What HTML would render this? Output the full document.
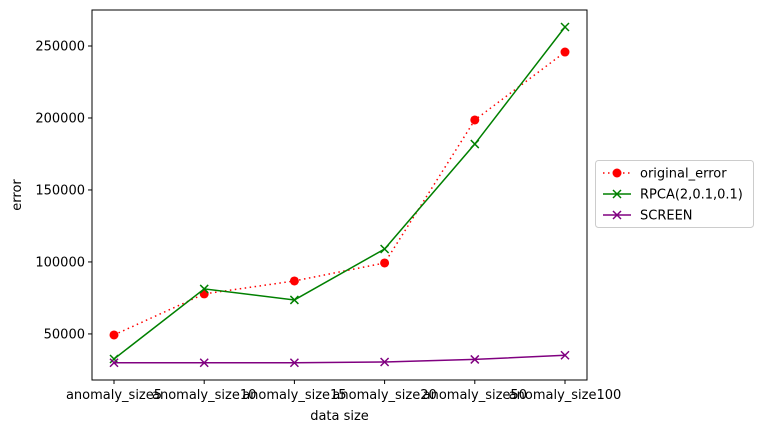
<!DOCTYPE html>
<html><head><meta charset="utf-8"><style>
body{margin:0;background:#fff;font-family:"Liberation Sans","DejaVu Sans",sans-serif;}
svg text{font-family:"DejaVu Sans","Liberation Sans",sans-serif;font-size:13px;fill:#000}
</style></head><body>
<svg id="chart" width="764" height="433" xmlns="http://www.w3.org/2000/svg"></svg>
<script>
const categories=["anomaly_size5","anomaly_size10","anomaly_size15","anomaly_size20","anomaly_size50","anomaly_size100"];
const originalError=[49300,77800,86800,99300,198600,245800];
const rpca=[32600,81250,73600,109000,181900,263200];
const screenVals=[30000,30000,30000,30500,32300,35200];
const yTicks=[50000,100000,150000,200000,250000];
const seriesNames=["original_error","RPCA(2,0.1,0.1)","SCREEN"];

const svg=document.getElementById('chart');
const NS="http://www.w3.org/2000/svg";
const L=92,R=587,T=10,B=380;
const yMin=18000,yMax=275000;
const xs=i=>114+i*(565-114)/(categories.length-1);
const ys=v=>B-(v-yMin)/(yMax-yMin)*(B-T);
function el(tag,attrs,parent){const e=document.createElementNS(NS,tag);for(const k in attrs)e.setAttribute(k,attrs[k]);(parent||svg).appendChild(e);return e;}

const frame=el('rect',{x:L,y:T,width:R-L,height:B-T,fill:'none',stroke:'#000','stroke-width':1});



yTicks.forEach(v=>{
  const y=ys(v);
  const t=el('line',{x1:L-4,x2:L,y1:y,y2:y,stroke:'#000'});
  
  
  const tx=el('text',{x:L-7,y:y+4.5,'text-anchor':'end'});tx.textContent=v;
  
  
});
categories.forEach((c,i)=>{
  const x=xs(i);
  const t=el('line',{x1:x,x2:x,y1:B,y2:B+4,stroke:'#000'});
  
  
  const tx=el('text',{x:x,y:B+19,'text-anchor':'middle'});tx.textContent=c;
  
  
});
const xt=el('text',{x:(L+R)/2,y:420,'text-anchor':'middle'});xt.textContent='data size';


const yt=el('text',{x:0,y:0,'text-anchor':'middle',transform:`translate(21,${(T+B)/2}) rotate(-90)`});yt.textContent='error';



function marker(g,type,x,y,color){
  if(type==='o'){const m=el('circle',{cx:x,cy:y,r:4.5,fill:color},g);}
  else{const m=el('path',{d:`M${x-4},${y-4}L${x+4},${y+4}M${x-4},${y+4}L${x+4},${y-4}`,stroke:color,'stroke-width':1.5,fill:'none'},g);}
}
const series=[[originalError,'red','o','1.5,3.5'],[rpca,'green','x',''],[screenVals,'purple','x','']];
series.forEach((s,si)=>{
  const g=el('g',{});
  
  
  const pts=s[0].map((v,i)=>xs(i)+','+ys(v)).join(' ');
  const pl=el('polyline',{points:pts,fill:'none',stroke:s[1],'stroke-width':1.5,'stroke-dasharray':s[3]},g);
  
  
  s[0].forEach((v,i)=>marker(g,s[2],xs(i),ys(v),s[1]));
});

const lg=el('g',{});


el('rect',{x:595.5,y:160.5,width:158,height:67,rx:3,fill:'#fff',stroke:'#ccc'},lg);
series.forEach((s,i)=>{
  const y=173+i*21;
  const g=el('g',{},lg);
  
  
  el('line',{x1:603,x2:631,y1:y,y2:y,stroke:s[1],'stroke-width':1.5,'stroke-dasharray':s[3]},g);
  marker(g,s[2],617,y,s[1]);
  const t=el('text',{x:640,y:y+4.5},g);t.textContent=seriesNames[i];
});
</script>
</body></html>
